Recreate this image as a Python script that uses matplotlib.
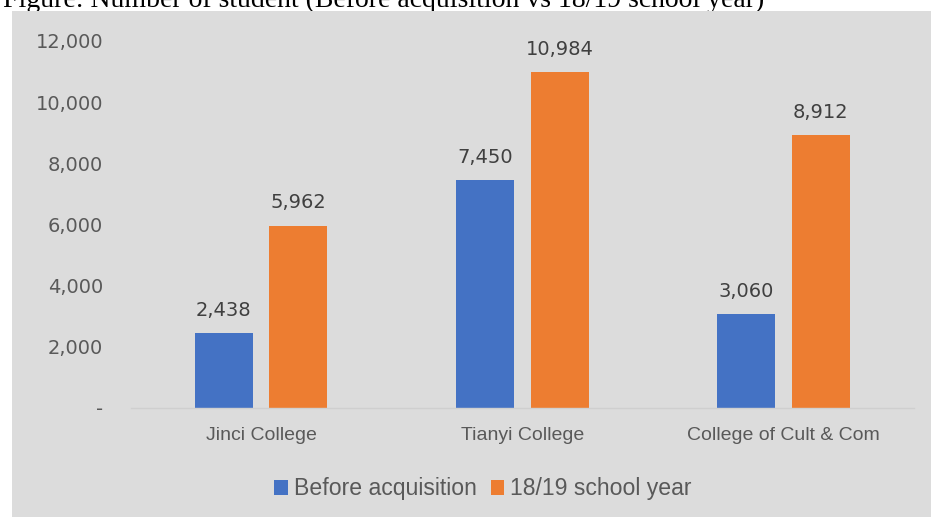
'''
Bar chart of student numbers
before acquisition and in 18/19
'''

import matplotlib
matplotlib.use("Agg")
import matplotlib.pyplot as plt
from matplotlib.patches import Rectangle, Patch
from matplotlib.ticker import FuncFormatter

#################################

# data
colleges=["Jinci College","Tianyi College","College of Cult & Com"]
before=[2438,7450,3060]
year1819=[5962,10984,8912]
series_names=["Before acquisition","18/19 school year"]
yticks=[0,2000,4000,6000,8000,10000,12000]
title="Figure: Number of student (Before acquisition vs 18/19 school year)"

# colours and fonts
blue='#4472C4'
orange='#ED7D31'
bg='#DCDCDC'
numFont='DejaVu Sans'
labFont=['Liberation Sans','DejaVu Sans']

W,H=931,517


def fmt(v,pos=None):
  '''thousands with a dash for zero, like excel'''
  if v==0:
    return "-"
  return "{:,}".format(int(v))


if __name__ == "__main__":
  '''Main block'''

  fig=plt.figure(figsize=(W/100,H/100),dpi=100)

  # title text sits above the chart box, mostly cut off (as in the original)
  fig.text(3/W,1-6.7/H,title,family='Liberation Serif',fontsize=20,
           ha='left',va='baseline',color='black',zorder=-2)

  # grey chart area
  fig.patches.append(Rectangle((12/W,0),1-12/W,1-11/H,transform=fig.transFigure,
                               facecolor=bg,edgecolor='none',zorder=-1))

  ax=fig.add_axes([130.5/W,1-408/H,(914-130.5)/W,(408-40.8)/H])
  ax.patch.set_visible(False)

  x=list(range(len(colleges)))
  bw=0.222
  off=0.143
  b1=ax.bar([i-off for i in x],before,width=bw,color=blue,label=series_names[0])
  b2=ax.bar([i+off for i in x],year1819,width=bw,color=orange,label=series_names[1])

  # value labels above bars
  for bars,vals in [(b1,before),(b2,year1819)]:
    for r,v in zip(bars,vals):
      ax.annotate(fmt(v),(r.get_x()+r.get_width()/2,v),xytext=(0,9.5),
                  textcoords='offset points',ha='center',va='bottom',
                  family=numFont,fontsize=14,color='#404040')

  ax.set_xlim(-0.5,len(colleges)-0.5)
  ax.set_ylim(0,12000)
  ax.set_yticks(yticks)
  ax.yaxis.set_major_formatter(FuncFormatter(fmt))
  ax.set_xticks(x)
  ax.set_xticklabels(colleges)

  ax.tick_params(axis='y',length=0,pad=19.8,labelsize=14,labelcolor='#595959')
  ax.tick_params(axis='x',length=0,pad=14,labelsize=14,labelcolor='#595959')
  for t in ax.get_yticklabels():
    t.set_family(numFont)
  for t in ax.get_xticklabels():
    t.set_family(labFont)

  for s in ['top','left','right']:
    ax.spines[s].set_visible(False)
  ax.spines['bottom'].set_color('#CFCFCF')
  ax.spines['bottom'].set_linewidth(1)

  handles=[Patch(facecolor=blue,edgecolor='none'),Patch(facecolor=orange,edgecolor='none')]
  leg=fig.legend(handles,series_names,loc='center',bbox_to_anchor=(483/W,1-489/H),
                 ncol=2,frameon=False,handlelength=0.6,handleheight=0.58,
                 handletextpad=0.25,columnspacing=0.6,borderpad=0,
                 prop={'family':labFont,'size':16.6})
  for t in leg.get_texts():
    t.set_color('#595959')

  fig.savefig('out.png',dpi=100)
